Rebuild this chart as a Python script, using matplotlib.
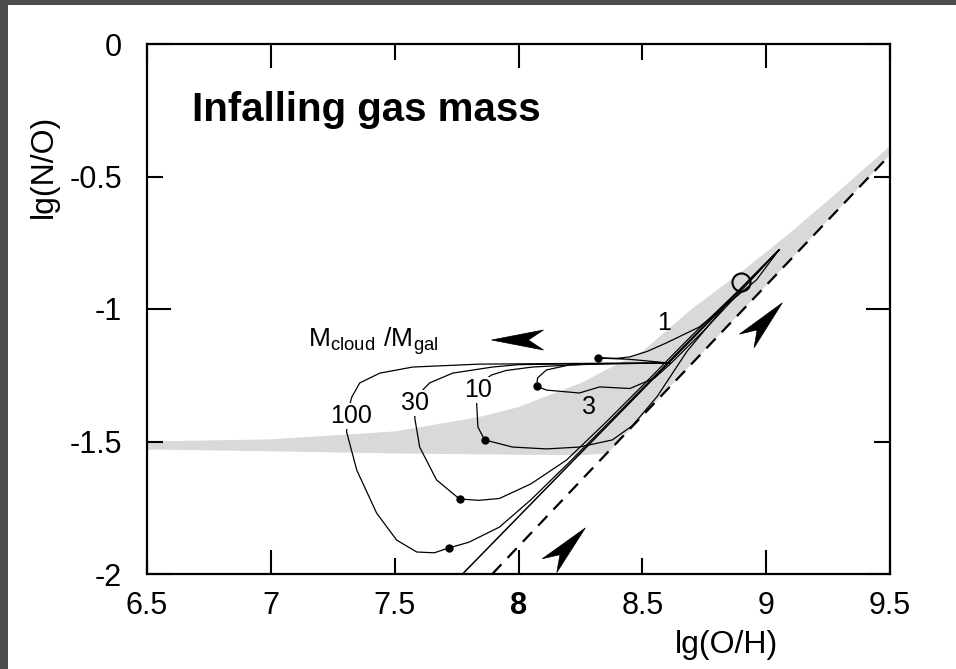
import matplotlib.pyplot as plt
import matplotlib.patches as mpatches
import numpy as np

plt.rcParams['font.family'] = ['Liberation Sans', 'DejaVu Sans']
plt.rcParams['mathtext.fontset'] = 'custom'
plt.rcParams['mathtext.rm'] = 'Liberation Sans'
plt.rcParams['axes.unicode_minus'] = False

############## DATA ##############
xticks = [6.5, 7, 7.5, 8, 8.5, 9, 9.5]
xticklabels = ['6.5', '7', '7.5', '8', '8.5', '9', '9.5']
yticks = [0, -0.5, -1, -1.5, -2]
yticklabels = ['0', '-0.5', '-1', '-1.5', '-2']

# grey band (observed region): upper edge, then lower edge
band_hi_x = [6.5, 7.0, 7.5, 7.84, 8.0, 8.25, 8.5, 8.7, 8.9, 9.1, 9.3, 9.5]
band_hi_y = [-1.50, -1.492, -1.462, -1.408, -1.37, -1.28, -1.16, -1.00, -0.86, -0.71, -0.55, -0.385]
band_lo_x = [6.5, 7.0, 7.5, 8.0, 8.25, 8.36, 8.45, 8.6, 9.0, 9.5]
band_lo_y = [-1.53, -1.537, -1.545, -1.55, -1.552, -1.545, -1.455, -1.305, -0.911, -0.418]

# dashed line
dash_x = [7.894, 9.5]
dash_y = [-2.0, -0.418]

# solid closed-box line
box_x = [7.774, 9.052]
box_y = [-2.0, -0.777]

# infall tracks M_cloud/M_gal
trk1_x = [8.61, 8.45, 8.319, 8.40, 8.448, 8.52, 8.597, 8.73, 8.863, 8.96, 9.052]
trk1_y = [-1.204, -1.19, -1.185, -1.186, -1.181, -1.16, -1.128, -1.068, -0.966, -0.891, -0.777]
trk3_x = [8.61, 8.40, 8.206, 8.113, 8.077, 8.073, 8.113, 8.246, 8.327, 8.45, 8.55, 8.61, 8.75, 8.90, 9.052]
trk3_y = [-1.204, -1.206, -1.211, -1.230, -1.260, -1.291, -1.306, -1.317, -1.294, -1.30, -1.26, -1.21, -1.08, -0.93, -0.777]
trk10_x = [8.61, 8.30, 8.056, 7.95, 7.891, 7.86, 7.831, 7.836, 7.863, 7.976, 8.113, 8.246, 8.379, 8.46, 8.56, 8.68, 8.85, 9.052]
trk10_y = [-1.204, -1.207, -1.219, -1.232, -1.249, -1.27, -1.355, -1.445, -1.494, -1.521, -1.528, -1.521, -1.494, -1.44, -1.33, -1.16, -0.97, -0.777]
trk30_x = [8.61, 8.30, 8.0, 7.895, 7.734, 7.641, 7.613, 7.59, 7.581, 7.601, 7.669, 7.762, 7.84, 7.923, 8.05, 8.194, 8.35, 8.5, 8.7, 8.9, 9.052]
trk30_y = [-1.204, -1.206, -1.21, -1.219, -1.242, -1.279, -1.306, -1.35, -1.411, -1.521, -1.645, -1.717, -1.722, -1.715, -1.66, -1.57, -1.43, -1.29, -1.10, -0.92, -0.777]
trk100_x = [8.61, 8.30, 7.843, 7.573, 7.44, 7.359, 7.327, 7.31, 7.306, 7.347, 7.427, 7.508, 7.589, 7.66, 7.718, 7.80, 7.923, 8.05, 8.2, 8.4, 8.6, 8.8, 9.052]
trk100_y = [-1.204, -1.205, -1.208, -1.219, -1.242, -1.279, -1.332, -1.39, -1.464, -1.608, -1.77, -1.872, -1.917, -1.92, -1.902, -1.88, -1.823, -1.72, -1.583, -1.395, -1.205, -1.015, -0.777]

# end-of-burst dots
dots_x = [8.319, 8.073, 7.863, 7.762, 7.718]
dots_y = [-1.185, -1.291, -1.494, -1.717, -1.902]

# present-day point
sun_x = [8.9]
sun_y = [-0.898]

# track labels
trk_labels = ['1', '3', '10', '30', '100']
lab_x = [8.589, 8.286, 7.835, 7.581, 7.323]
lab_y = [-1.053, -1.37, -1.306, -1.355, -1.404]
lab_gap = [False, False, True, True, True]

# arrows: tip and direction (deg, screen space)
arr_x = [7.891, 9.065, 8.27]
arr_y = [-1.117, -0.977, -1.826]
arr_ang = [180, 47, 46.5]

############## PLOT ##############
fig = plt.figure(figsize=(9.56, 6.69), dpi=100)
fig.patch.set_facecolor('#4d4d4d')
fig.add_artist(mpatches.Rectangle((8 / 956, 0), 1, (669 - 5) / 669, transform=fig.transFigure,
                                  facecolor='white', edgecolor='none', zorder=0))
ax = fig.add_axes([147 / 956, 95 / 669, 743 / 956, 530 / 669])
ax.set_xlim(6.5, 9.5)
ax.set_ylim(-2, 0)

ax.fill(band_hi_x + band_lo_x[::-1], band_hi_y + band_lo_y[::-1],
        color='#d9d9d9', lw=0, zorder=1)

ax.plot(dash_x, dash_y, color='black', lw=1.6, ls=(0, (6, 4)), zorder=3)
ax.plot(box_x, box_y, color='black', lw=1.1, zorder=3)
for tx, ty in [(trk1_x, trk1_y), (trk3_x, trk3_y), (trk10_x, trk10_y),
               (trk30_x, trk30_y), (trk100_x, trk100_y)]:
    ax.plot(tx, ty, color='black', lw=0.9, zorder=3)
ax.plot(dots_x, dots_y, 'o', color='black', ms=5, zorder=4)
ax.plot(sun_x, sun_y, 'o', mfc='none', mec='black', mew=1.5, ms=13, zorder=5)

for t, x, y, g in zip(trk_labels, lab_x, lab_y, lab_gap):
    bb = dict(facecolor='white', edgecolor='none', pad=0.5) if g else None
    ax.text(x, y, t, fontsize=18, ha='center', va='center', zorder=6, bbox=bb)

ax.text(7.149, -1.143, r'$\mathrm{M_{cloud}\ /M_{gal}}$', fontsize=19, ha='left', va='baseline')
ax.text(6.681, -0.2906, 'Infalling gas mass', fontsize=29, fontweight='bold', ha='left', va='baseline')

# stealth arrowheads, built in pixel space
def arrowhead(x, y, ang, length=52, width=20, notch=0.29):
    tip = ax.transData.transform((x, y))
    a = np.deg2rad(ang)
    d = np.array([np.cos(a), np.sin(a)])
    n = np.array([-d[1], d[0]])
    pts = [tip, tip - d * length + n * width / 2, tip - d * length * (1 - notch),
           tip - d * length - n * width / 2]
    pts = ax.transData.inverted().transform(pts)
    ax.add_patch(mpatches.Polygon(pts, closed=True, facecolor='black', edgecolor='black', lw=0.5, zorder=6))

for x, y, a in zip(arr_x, arr_y, arr_ang):
    arrowhead(x, y, a)

ax.set_xticks(xticks)
ax.set_xticklabels(xticklabels)
ax.set_yticks(yticks)
ax.set_yticklabels(yticklabels)
ax.tick_params(direction='in', width=1.5, labelsize=22, top=True, right=True)
ax.tick_params(axis='x', pad=12)
ax.tick_params(axis='y', pad=18)
for ticks, vals in [(ax.xaxis.get_major_ticks(), xticks), (ax.yaxis.get_major_ticks(), yticks)]:
    for tk, v in zip(ticks, vals):
        ln = 17 if float(v).is_integer() else 11.5
        tk.tick1line.set_markersize(ln)
        tk.tick2line.set_markersize(ln)
ax.get_xticklabels()[3].set_fontweight('bold')
for s in ax.spines.values():
    s.set_linewidth(1.6)

ax.set_xlabel('lg(O/H)', fontsize=23)
ax.xaxis.set_label_coords(0.78, -0.105)
ax.set_ylabel('lg(N/O)', fontsize=23)
ax.yaxis.set_label_coords(-0.118, 0.77)

fig.savefig('out.png', dpi=100, facecolor=fig.get_facecolor())
